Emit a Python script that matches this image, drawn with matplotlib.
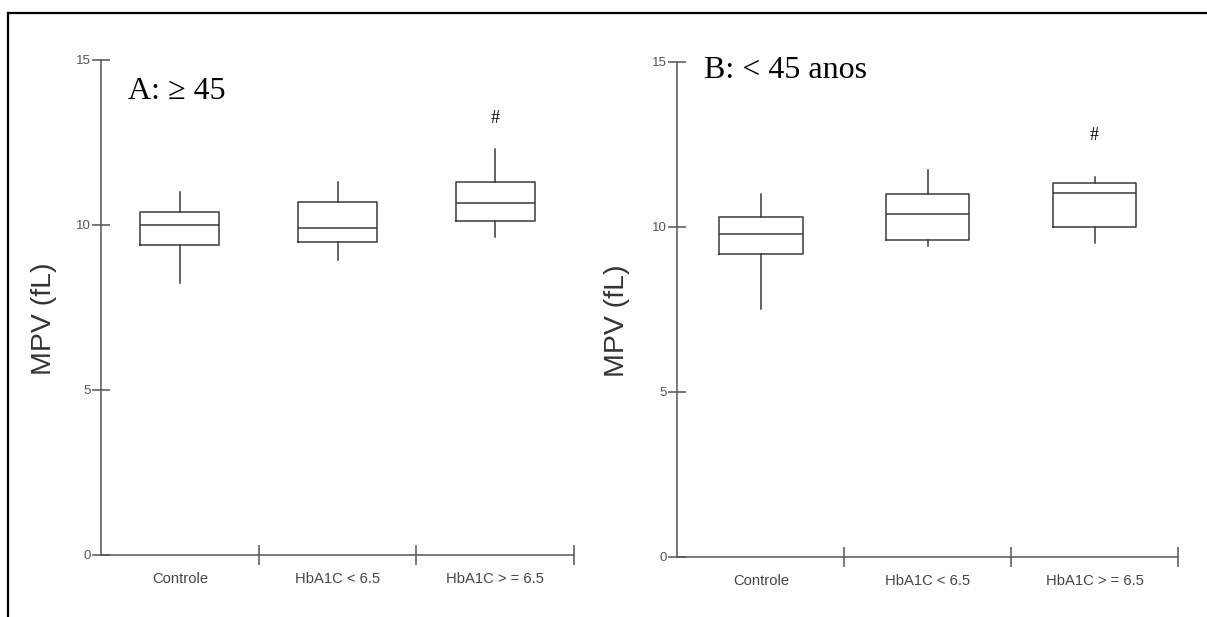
import matplotlib.pyplot as plt
from matplotlib.lines import Line2D

plt.rcParams['font.family'] = ['Liberation Sans', 'DejaVu Sans']

# categorias e valores
categorias = ['Controle', 'HbA1C < 6.5', 'HbA1C > = 6.5']

# painel A: >= 45
a_low = [8.23, 8.94, 9.64]
a_q1 = [9.40, 9.48, 10.12]
a_med = [9.99, 9.91, 10.65]
a_q3 = [10.39, 10.68, 11.29]
a_high = [11.00, 11.30, 12.30]

# painel B: < 45 anos
b_low = [7.51, 9.41, 9.50]
b_q1 = [9.17, 9.61, 9.99]
b_med = [9.77, 10.39, 11.03]
b_q3 = [10.30, 10.99, 11.34]
b_high = [10.99, 11.71, 11.52]

# marcador de significância (#) sobre o último grupo
a_sig_y = 13.23
b_sig_y = 12.78

yticks = [0, 5, 10, 15]

fig = plt.figure(figsize=(12.07, 6.17), dpi=100)
ax1 = fig.add_axes([101 / 1207, 1 - 554.9 / 617, 473 / 1207, 495.1 / 617])
ax2 = fig.add_axes([677.4 / 1207, 1 - 556.9 / 617, 500.6 / 1207, 495.1 / 617])

gray = '#555555'
boxc = '#3a3a3a'


def painel(ax, low, q1, med, q3, high, sig_y, titulo, tx, ty):
    stats = []
    for i in range(len(categorias)):
        stats.append({'whislo': low[i], 'q1': q1[i], 'med': med[i],
                      'q3': q3[i], 'whishi': high[i], 'fliers': []})
    pos = [i + 0.5 for i in range(len(categorias))]
    ax.bxp(stats, positions=pos, widths=0.5, showcaps=False, showfliers=False,
           boxprops=dict(color=boxc, lw=1.1),
           medianprops=dict(color=boxc, lw=1.1),
           whiskerprops=dict(color=boxc, lw=1.1))
    ax.set_xlim(0, 3)
    ax.set_ylim(0, 15)
    for s in ['top', 'right']:
        ax.spines[s].set_visible(False)
    for s in ['left', 'bottom']:
        ax.spines[s].set_color(gray)
        ax.spines[s].set_linewidth(1.1)

    ax.set_yticks(yticks)
    ax.set_yticklabels([str(v) for v in yticks])
    ax.tick_params(axis='y', direction='inout', length=13, width=1.1,
                   color=gray, labelsize=9.5, labelcolor='#555555', pad=1)

    ax.set_xticks([1, 2, 3])
    ax.set_xticklabels(['', '', ''])
    ax.set_xticks(pos, minor=True)
    ax.set_xticklabels(categorias, minor=True)
    ax.tick_params(axis='x', which='major', direction='inout', length=15,
                   width=1.1, color=gray)
    ax.tick_params(axis='x', which='minor', length=0, pad=12.5,
                   labelsize=10.6, labelcolor='#444444')

    ax.text(-0.12, 0.476, 'MPV (fL)', transform=ax.transAxes, rotation=90,
            ha='center', va='center', fontsize=20.5, color='#333333')
    ax.text(tx, ty, titulo, fontsize=23, family='Liberation Serif',
            ha='left', va='center', color='black')
    ax.text(pos[2], sig_y, '#', fontsize=13, family='Liberation Serif',
            ha='center', va='center', color='black')


painel(ax1, a_low, a_q1, a_med, a_q3, a_high, a_sig_y, 'A: ≥ 45', 0.171, 14.04)
painel(ax2, b_low, b_q1, b_med, b_q3, b_high, b_sig_y, 'B: < 45 anos', 0.162, 14.75)

# moldura externa (só esquerda e topo)
yt = 1 - 13 / 617
xl = 7.5 / 1207
fig.add_artist(Line2D([xl, xl], [0, yt], color='black', lw=1.6,
                      transform=fig.transFigure))
fig.add_artist(Line2D([xl, 1], [yt, yt], color='black', lw=1.6,
                      transform=fig.transFigure))

fig.savefig('out.png', dpi=100)
